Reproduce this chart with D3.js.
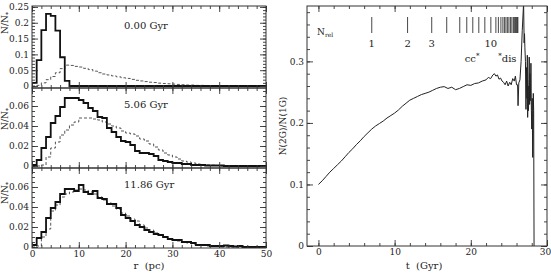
<!DOCTYPE html>
<html lang="en">
<head>
<meta charset="utf-8">
<title>2G fraction</title>
<script src="https://cdn.jsdelivr.net/npm/d3@7"></script>
<style>
  body { margin: 0; background: #fff; }
  text { font-family: "DejaVu Serif", serif; fill: #222; }
</style>
</head>
<body>
<script>
// histogram values, 1 pc bins starting at r = 0
var snapLabels = ["0.00 Gyr", "5.06 Gyr", "11.86 Gyr"];
var histSolid0 = [0.01, 0.082, 0.177, 0.228, 0.222, 0.175, 0.091, 0.016, 0];
var histDash0 = [0, 0.002, 0.01, 0.02, 0.03, 0.042, 0.055, 0.066, 0.065, 0.062, 0.06, 0.056, 0.052, 0.047,
  0.042, 0.038, 0.035, 0.032, 0.029, 0.026, 0.024, 0.021, 0.018, 0.016, 0.014, 0.012, 0.011, 0.009,
  0.008, 0.007, 0.006, 0.005, 0.004, 0.003, 0.003, 0.002, 0.002, 0.001, 0.001, 0.0005, 0.0005, 0];
var histSolid1 = [0.001, 0.006, 0.018, 0.029, 0.043, 0.05, 0.059, 0.068, 0.068, 0.068, 0.066, 0.063, 0.058,
  0.055, 0.049, 0.048, 0.038, 0.034, 0.029, 0.025, 0.024, 0.021, 0.015, 0.013, 0.013, 0.012, 0.01, 0.006,
  0.005, 0.004, 0.003, 0.003, 0.002, 0.002, 0.001, 0.001, 0.001, 0.0005, 0.0005, 0.0005, 0.0005, 0];
var histDash1 = [0, 0, 0.001, 0.009, 0.018, 0.024, 0.031, 0.036, 0.041, 0.044, 0.048, 0.048, 0.048, 0.047,
  0.046, 0.044, 0.042, 0.04, 0.038, 0.035, 0.033, 0.032, 0.03, 0.027, 0.025, 0.022, 0.019, 0.016, 0.013,
  0.011, 0.009, 0.007, 0.005, 0.004, 0.003, 0.002, 0.0015, 0.001, 0.0008, 0.0005, 0];
var histSolid2 = [0.002, 0.009, 0.015, 0.029, 0.039, 0.045, 0.053, 0.058, 0.058, 0.056, 0.062, 0.055, 0.053,
  0.056, 0.049, 0.048, 0.043, 0.043, 0.039, 0.032, 0.029, 0.026, 0.022, 0.02, 0.017, 0.015, 0.013, 0.012,
  0.01, 0.008, 0.007, 0.007, 0.005, 0.005, 0.004, 0.002, 0.002, 0.002, 0.001, 0.001, 0.001, 0.0015,
  0.001, 0.0005, 0.001, 0];
var histDash2 = [0, 0.001, 0.01, 0.018, 0.036, 0.042, 0.05, 0.053, 0.055, 0.057, 0.058, 0.057, 0.055, 0.053,
  0.05, 0.047, 0.044, 0.041, 0.038, 0.034, 0.031, 0.028, 0.026, 0.022, 0.019, 0.017, 0.014, 0.012, 0.01,
  0.008, 0.007, 0.006, 0.005, 0.004, 0.003, 0.002, 0.0015, 0.001, 0.001, 0.0005, 0];

// N(2G)/N(1G) against time
var ratioT = [0, 0.5, 1, 1.5, 2, 2.5, 3, 3.5, 4, 4.5, 5, 5.5, 6, 6.5, 7, 7.5, 8, 8.5, 9, 9.5, 10, 10.5, 11,
  11.5, 12, 12.5, 13, 13.5, 14, 14.5, 15, 15.5, 16, 16.5, 17, 17.5, 18, 18.5, 19, 19.5, 20, 20.5, 21, 21.5,
  22, 22.3, 22.6, 22.9, 23.1, 23.3, 23.5, 23.7, 23.9, 24.1, 24.3, 24.5, 24.7, 24.9, 25.1, 25.3, 25.5, 25.7,
  25.85, 26.0, 26.14, 26.2, 26.3, 26.45, 26.6, 26.75, 26.93, 27.0, 27.05, 27.1, 27.17, 27.24, 27.3, 27.36,
  27.42, 27.46, 27.52, 27.57, 27.62, 27.67, 27.72, 27.76, 27.8, 27.85, 27.89, 27.95, 28.0, 28.06, 28.12,
  28.18, 28.2, 28.25, 28.3];
var ratioV = [0.1, 0.106, 0.113, 0.12, 0.126, 0.132, 0.138, 0.145, 0.152, 0.158, 0.165, 0.171, 0.178, 0.184,
  0.19, 0.195, 0.199, 0.203, 0.208, 0.212, 0.216, 0.221, 0.227, 0.232, 0.237, 0.24, 0.243, 0.246, 0.248,
  0.25, 0.253, 0.256, 0.258, 0.259, 0.256, 0.258, 0.254, 0.256, 0.259, 0.262, 0.261, 0.264, 0.265, 0.268,
  0.27, 0.274, 0.272, 0.278, 0.28, 0.276, 0.278, 0.271, 0.273, 0.268, 0.266, 0.262, 0.268, 0.26, 0.266,
  0.262, 0.272, 0.268, 0.276, 0.262, 0.262, 0.228, 0.265, 0.27, 0.3, 0.35, 0.395, 0.33, 0.345, 0.322, 0.3,
  0.222, 0.29, 0.24, 0.31, 0.209, 0.26, 0.22, 0.27, 0.307, 0.23, 0.28, 0.236, 0.26, 0.297, 0.22, 0.19,
  0.24, 0.144, 0.2, 0.248, 0.22, 0];

// times where N_rel = 1, 2, 3, ...
var nrelT = [7.0, 11.7, 14.87, 16.84, 18.55, 19.47, 20.26, 21.05, 21.84, 22.63, 23.29, 23.62, 23.95, 24.21,
  24.41, 24.61, 24.8, 25.0, 25.2, 25.39, 25.59, 25.72, 25.86, 25.99, 26.12, 26.18];
var nrelShown = [1, 2, 3, 10];

var W = 551, H = 275;
var svg = d3.select("body").append("svg").attr("width", W).attr("height", H);

function fmt(d) { return d === 0 ? "0" : String(+d.toFixed(3)); }

function frameAxes(g, x, y, xMaj, xMin, yMaj, yMin, showX) {
  var x0 = x.range()[0], x1 = x.range()[1], y0 = y.range()[0], y1 = y.range()[1];
  var defs = [
    [d3.axisBottom(x).tickValues(xMaj).tickSize(-6), "translate(0," + y0 + ")", showX],
    [d3.axisBottom(x).tickValues(xMin).tickSize(-3), "translate(0," + y0 + ")", false],
    [d3.axisTop(x).tickValues(xMaj).tickSize(-6), "translate(0," + y1 + ")", false],
    [d3.axisTop(x).tickValues(xMin).tickSize(-3), "translate(0," + y1 + ")", false],
    [d3.axisLeft(y).tickValues(yMaj).tickSize(-6).tickFormat(fmt), "translate(" + x0 + ",0)", true],
    [d3.axisLeft(y).tickValues(yMin).tickSize(-3), "translate(" + x0 + ",0)", false],
    [d3.axisRight(y).tickValues(yMaj).tickSize(-6), "translate(" + x1 + ",0)", false],
    [d3.axisRight(y).tickValues(yMin).tickSize(-3), "translate(" + x1 + ",0)", false]
  ];
  defs.forEach(function(d) {
    var a = g.append("g").attr("transform", d[1]).call(d[0]);
    a.select(".domain").remove();
    a.selectAll("line").attr("stroke", "#333").attr("stroke-width", 0.9);
    a.selectAll("text").attr("font-size", 9).attr("fill", "#222")
      .attr("font-family", "DejaVu Serif, serif");
    if (!d[2]) a.selectAll("text").remove();
  });
  g.append("rect").attr("x", x0).attr("y", y1).attr("width", x1 - x0).attr("height", y0 - y1)
    .attr("fill", "none").attr("stroke", "#333").attr("stroke-width", 1);
}

// ---- left column: three radial distributions ----
var xr = d3.scaleLinear().domain([0, 50]).range([32, 266]);
var panels = [
  { top: 6, bot: 88, dom: [-0.0063, 0.253], maj: [0, 0.05, 0.1, 0.15, 0.2, 0.25], minStep: 0.01,
    solid: histSolid0, dash: histDash0, labY: 23, textY: 29 },
  { top: 88, bot: 168, dom: [-0.002, 0.078], maj: [0, 0.02, 0.04, 0.06], minStep: 0.005,
    solid: histSolid1, dash: histDash1, labY: 119, textY: 108 },
  { top: 168, bot: 248, dom: [-0.001, 0.079], maj: [0, 0.02, 0.04, 0.06], minStep: 0.005,
    solid: histSolid2, dash: histDash2, labY: 193, textY: 188 }
];

function stepPts(vals) {
  var pts = vals.map(function(v, i) { return [i, v]; });
  pts.push([50, 0]);
  return pts;
}

panels.forEach(function(p, k) {
  var y = d3.scaleLinear().domain(p.dom).range([p.bot, p.top]);
  var g = svg.append("g");
  var line = d3.line().x(function(d) { return xr(d[0]); }).y(function(d) { return y(d[1]); })
    .curve(d3.curveStepAfter);
  g.append("path").attr("d", line(stepPts(p.dash))).attr("fill", "none")
    .attr("stroke", "#444").attr("stroke-width", 0.9).attr("stroke-dasharray", "3,2");
  g.append("path").attr("d", line(stepPts(p.solid))).attr("fill", "none")
    .attr("stroke", "#111").attr("stroke-width", 1.8);
  var yMin = d3.range(0, p.dom[1], p.minStep);
  frameAxes(g, xr, y, [0, 10, 20, 30, 40, 50], d3.range(0, 51, 2), p.maj, yMin, k === 2);
  g.append("text").attr("x", 124).attr("y", p.textY).attr("font-size", 10).text(snapLabels[k]);
  var lab = g.append("text").attr("transform", "translate(8," + p.labY + ") rotate(-90)")
    .attr("text-anchor", "middle").attr("font-size", 9);
  lab.append("tspan").text("N/N");
  lab.append("tspan").attr("font-size", 6).attr("dy", 2).text("*");
});

svg.append("text").attr("x", 149).attr("y", 269).attr("text-anchor", "middle")
  .attr("font-size", 10).attr("xml:space", "preserve").text("r  (pc)");

// ---- right panel: N(2G)/N(1G) ----
var xt = d3.scaleLinear().domain([-1.5, 30]).range([307, 547]);
var yt = d3.scaleLinear().domain([0, 0.39]).range([246, 6]);
var gr = svg.append("g");
svg.append("clipPath").attr("id", "clipR").append("rect")
  .attr("x", 307).attr("y", 6).attr("width", 240).attr("height", 240);

var ratio = ratioT.map(function(t, i) { return [t, ratioV[i]]; });
gr.append("path").attr("clip-path", "url(#clipR)")
  .attr("d", d3.line().x(function(d) { return xt(d[0]); }).y(function(d) { return yt(d[1]); })(ratio))
  .attr("fill", "none").attr("stroke", "#222").attr("stroke-width", 1);

frameAxes(gr, xt, yt, [0, 10, 20, 30], d3.range(0, 30.1, 2), [0, 0.1, 0.2, 0.3],
  d3.range(0, 0.39, 0.02), true);
// keep the last x label inside the page
gr.selectAll(".tick text").filter(function(d) { return d === 30; }).attr("dx", -2);

// N_rel markers
gr.selectAll("line.nrel").data(nrelT).enter().append("line").attr("class", "nrel")
  .attr("x1", function(d) { return xt(d); }).attr("x2", function(d) { return xt(d); })
  .attr("y1", 17).attr("y2", 33).attr("stroke", "#333").attr("stroke-width", 0.9);
gr.selectAll("text.nrel").data(nrelShown).enter().append("text").attr("class", "nrel")
  .attr("x", function(d) { return xt(nrelT[d - 1]); }).attr("y", 47)
  .attr("text-anchor", "middle").attr("font-size", 10).text(function(d) { return d; });
var nl = gr.append("text").attr("x", 317).attr("y", 35).attr("font-size", 9);
nl.append("tspan").text("N");
nl.append("tspan").attr("font-size", 6).attr("dy", 2).text("rel");

var cc = gr.append("text").attr("x", xt(19.2)).attr("y", 62).attr("font-size", 10);
cc.append("tspan").text("cc");
cc.append("tspan").attr("font-size", 7).attr("dy", -4).text("*");
var dis = gr.append("text").attr("x", xt(23.6)).attr("y", 62).attr("font-size", 10);
dis.append("tspan").attr("font-size", 7).attr("dy", -4).text("*");
dis.append("tspan").attr("dy", 4).text("dis");

gr.append("text").attr("transform", "translate(286,126) rotate(-90)").attr("text-anchor", "middle")
  .attr("font-size", 9).text("N(2G)/N(1G)");
svg.append("text").attr("x", 424).attr("y", 269).attr("text-anchor", "middle")
  .attr("font-size", 10).attr("xml:space", "preserve").text("t  (Gyr)");
</script>
</body>
</html>
